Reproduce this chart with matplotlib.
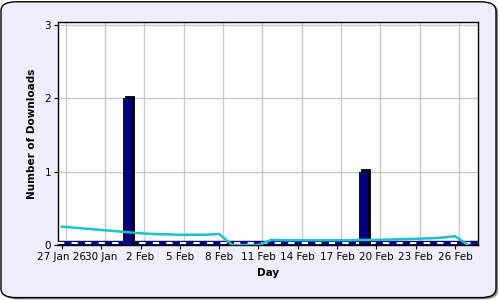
import matplotlib.pyplot as plt
from matplotlib.patches import FancyBboxPatch

# day index 0 = 27 Jan ... 31 = 27 Feb
days = list(range(32))
downloads = [0, 0, 0, 0, 0, 2, 0, 0, 0, 0, 0, 0, 0, 0, 0, 0,
             0, 0, 0, 0, 0, 0, 0, 1, 0, 0, 0, 0, 0, 0, 0, 0]
trend = [0.25, 0.235, 0.22, 0.205, 0.19, 0.175, 0.16, 0.15, 0.145, 0.14,
         0.14, 0.14, 0.15, 0.0, 0.0, 0.0, 0.07, 0.065, 0.065, 0.065,
         0.065, 0.065, 0.065, 0.07, 0.07, 0.075, 0.08, 0.085, 0.09, 0.1,
         0.12, 0.0]
tick_days = [0, 3, 6, 9, 12, 15, 18, 21, 24, 27, 30]
tick_labels = ['27 Jan 26', '30 Jan', '2 Feb', '5 Feb', '8 Feb', '11 Feb',
               '14 Feb', '17 Feb', '20 Feb', '23 Feb', '26 Feb']
y_ticks = [0, 1, 2, 3]

navy = '#000080'
lavender = '#EEEEFC'

fig = plt.figure(figsize=(5, 3), dpi=100, facecolor='white')

# rounded panel with a shadow, kept behind the axes
shadow = FancyBboxPatch((0.006, 0.002), 0.99, 0.988, transform=fig.transFigure,
                        boxstyle='round,pad=0,rounding_size=0.03',
                        facecolor='#888888', edgecolor='none', zorder=-2)
panel = FancyBboxPatch((0.002, 0.008), 0.99, 0.986, transform=fig.transFigure,
                       boxstyle='round,pad=0,rounding_size=0.03',
                       facecolor=lavender, edgecolor='black', linewidth=1, zorder=-1)
fig.patches.extend([shadow, panel])

ax = fig.add_axes([0.116, 0.1833, 0.84, 0.7433])
ax.set_facecolor('white')
ax.set_xlim(-0.3, 31.75)
ax.set_ylim(0, 3.04)

# grid, shifted a bit to mimic the 3D depth
for d in tick_days:
    ax.axvline(d + 0.3, color='#C8C8C8', linewidth=1, zorder=1)
for v in y_ticks[1:]:
    ax.axhline(v, color='#C8C8C8', linewidth=1, zorder=1)

# floor strip of zero-height bars
ax.axhspan(0, 0.055, color=navy, zorder=2)
ax.axhline(0.03, color='white', linewidth=1.5, linestyle=(0, (3, 3.5)), zorder=3)

# bars with a dark side face
ax.bar([d + 0.17 for d in days], [v + 0.03 if v > 0 else 0 for v in downloads],
       width=0.7, color='#000030', edgecolor='black', linewidth=0.6, zorder=4)
ax.bar(days, downloads, width=0.7, color=navy, edgecolor='black',
       linewidth=0.6, zorder=5)

ax.plot(days, trend, color='#1CC4C4', linewidth=1.8, zorder=6)

ax.set_xticks(tick_days)
ax.set_xticklabels(tick_labels, fontsize=7.5)
ax.set_yticks(y_ticks)
ax.set_yticklabels([str(v) for v in y_ticks], fontsize=7.5)
ax.tick_params(axis='both', direction='out', length=3, width=0.8, pad=2)

for s in ax.spines.values():
    s.set_color('black')
    s.set_linewidth(1)

ax.set_xlabel('Day', fontsize=7.5, fontweight='bold', labelpad=4)
ax.set_ylabel('Number of Downloads', fontsize=7.5, fontweight='bold', labelpad=5)

fig.savefig('out.png', dpi=100, facecolor='white')
